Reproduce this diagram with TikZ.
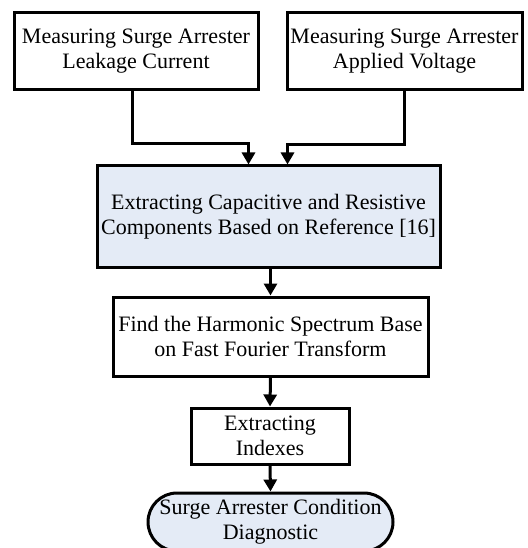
\documentclass[tikz,border=0pt]{standalone}
\usepackage{fontspec}
\setmainfont{Liberation Serif}
\usetikzlibrary{arrows.meta,shapes.misc}
\definecolor{paleblue}{RGB}{228,235,246}
\begin{document}
\begin{tikzpicture}[x=1pt,y=-1pt,>={Triangle[length=12pt,width=13pt]}]
\tikzset{
    panel/.style={draw,line width=3pt,align=center,inner sep=0pt,font=\fontsize{22}{25}\selectfont},
    flow/.style={->,line width=3pt}
}
\useasboundingbox (0,0) rectangle (527,548);
\node[panel,minimum width=244pt,minimum height=77pt] (lkg) at (136,51) {Measuring Surge Arrester\\Leakage Current};
\node[panel,minimum width=235pt,minimum height=77pt] (vlt) at (404.5,51.5) {Measuring Surge Arrester\\Applied Voltage};
\node[panel,fill=paleblue,minimum width=343pt,minimum height=101pt] (cmp) at (268.5,216.5) {Extracting Capacitive and Resistive\\Components Based on Reference [16]};
\node[panel,minimum width=315pt,minimum height=79pt] (fft) at (270.5,336.5) {Find the Harmonic Spectrum Base\\on Fast Fourier Transform};
\node[panel,minimum width=158pt,minimum height=56pt] (idx) at (270,436) {Extracting\\Indexes};
\node[panel,fill=paleblue,rounded rectangle,minimum width=245pt,minimum height=58pt] (dgn) at (270.5,522) {Surge Arrester Condition\\Diagnostic};

\coordinate (inL) at ([xshift=-20pt]cmp.north);
\coordinate (inR) at ([xshift=19pt]cmp.north);
\draw[flow] ([xshift=-4pt]lkg.south) -- ++(0,53) -| (inL);
\draw[flow] (vlt.south) -- ++(0,53) -| (inR);
\draw[flow] ([xshift=2pt]cmp.south) -- (fft.north);
\draw[flow] (fft.south) -- (idx.north);
\draw[flow] (idx.south) -- (dgn.north);
\end{tikzpicture}
\end{document}
